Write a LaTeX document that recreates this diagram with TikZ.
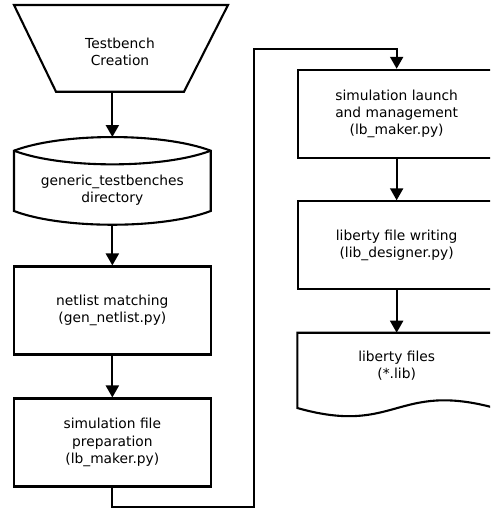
\documentclass[tikz,border=0pt]{standalone}
\usepackage{fontspec}
\setmainfont{DejaVu Sans}
\usetikzlibrary{arrows.meta}
\begin{document}
\begin{tikzpicture}[x=1pt,y=-1pt,
  line width=2.1pt,
  every node/.style={font=\fontsize{13.8}{17.3}\selectfont, align=center},
  procbox/.style={draw, rectangle, minimum width=196.7pt, minimum height=88pt, inner sep=0pt},
  arr/.style={-{Triangle[length=12pt,width=13pt]}},
  lbl/.style={inner sep=0pt}]
\useasboundingbox (0,0) rectangle (490,511);
\clip (0,0) rectangle (490,511);
% trapezoid
\draw (14,5) -- (228,5) -- (184,91.7) -- (56,91.7) -- cycle;
\node[lbl] (tb) at (120,52) {Testbench\\Creation};
\coordinate (tbb) at (112.35,91.7);
% cylinder / stored data
\draw (14,150.7) .. controls (62,132.5) and (162.7,132.5) .. (210.7,150.7)
      -- (210.7,211) .. controls (162.7,229.3) and (62,229.3) .. (14,211) -- cycle;
\draw (14,150.7) .. controls (62,168.9) and (162.7,168.9) .. (210.7,150.7);
\coordinate (cyltop) at (112.35,137);
\coordinate (cylbot) at (112.35,224.7);
\node[lbl] (gtb) at (112.35,190) {generic\_testbenches\\directory};
% left boxes
\node[procbox] (nm) at (112.35,310.5) {netlist matching\\(gen\_netlist.py)};
\node[procbox] (sfp) at (112.35,442.5) {simulation file\\preparation\\(lb\_maker.py)};
% right boxes
\node[procbox] (slm) at (396.65,113.85) {simulation launch\\and management\\(lb\_maker.py)};
\node[procbox] (lfw) at (396.65,245.35) {liberty file writing\\(lib\_designer.py)};
% document
\draw (297.3,332.7) -- (495,332.7) -- (495,408)
      .. controls (396,381) and (396,436) .. (297.3,408) -- cycle;
\coordinate (doctop) at (396.65,332.7);
\node[lbl] (lf) at (396.65,366) {liberty files\\(*.lib)};
% connectors
\coordinate (ca) at (254,506.7);
\coordinate (cb) at (254,49);
\draw[arr] (tbb) -- (cyltop);
\draw[arr] (cylbot) -- (nm.north);
\draw[arr] (nm.south) -- (sfp.north);
\draw[arr] (sfp.south) |- (ca) -- (cb) -| (slm.north);
\draw[arr] (slm.south) -- (lfw.north);
\draw[arr] (lfw.south) -- (doctop);
\end{tikzpicture}
\end{document}
